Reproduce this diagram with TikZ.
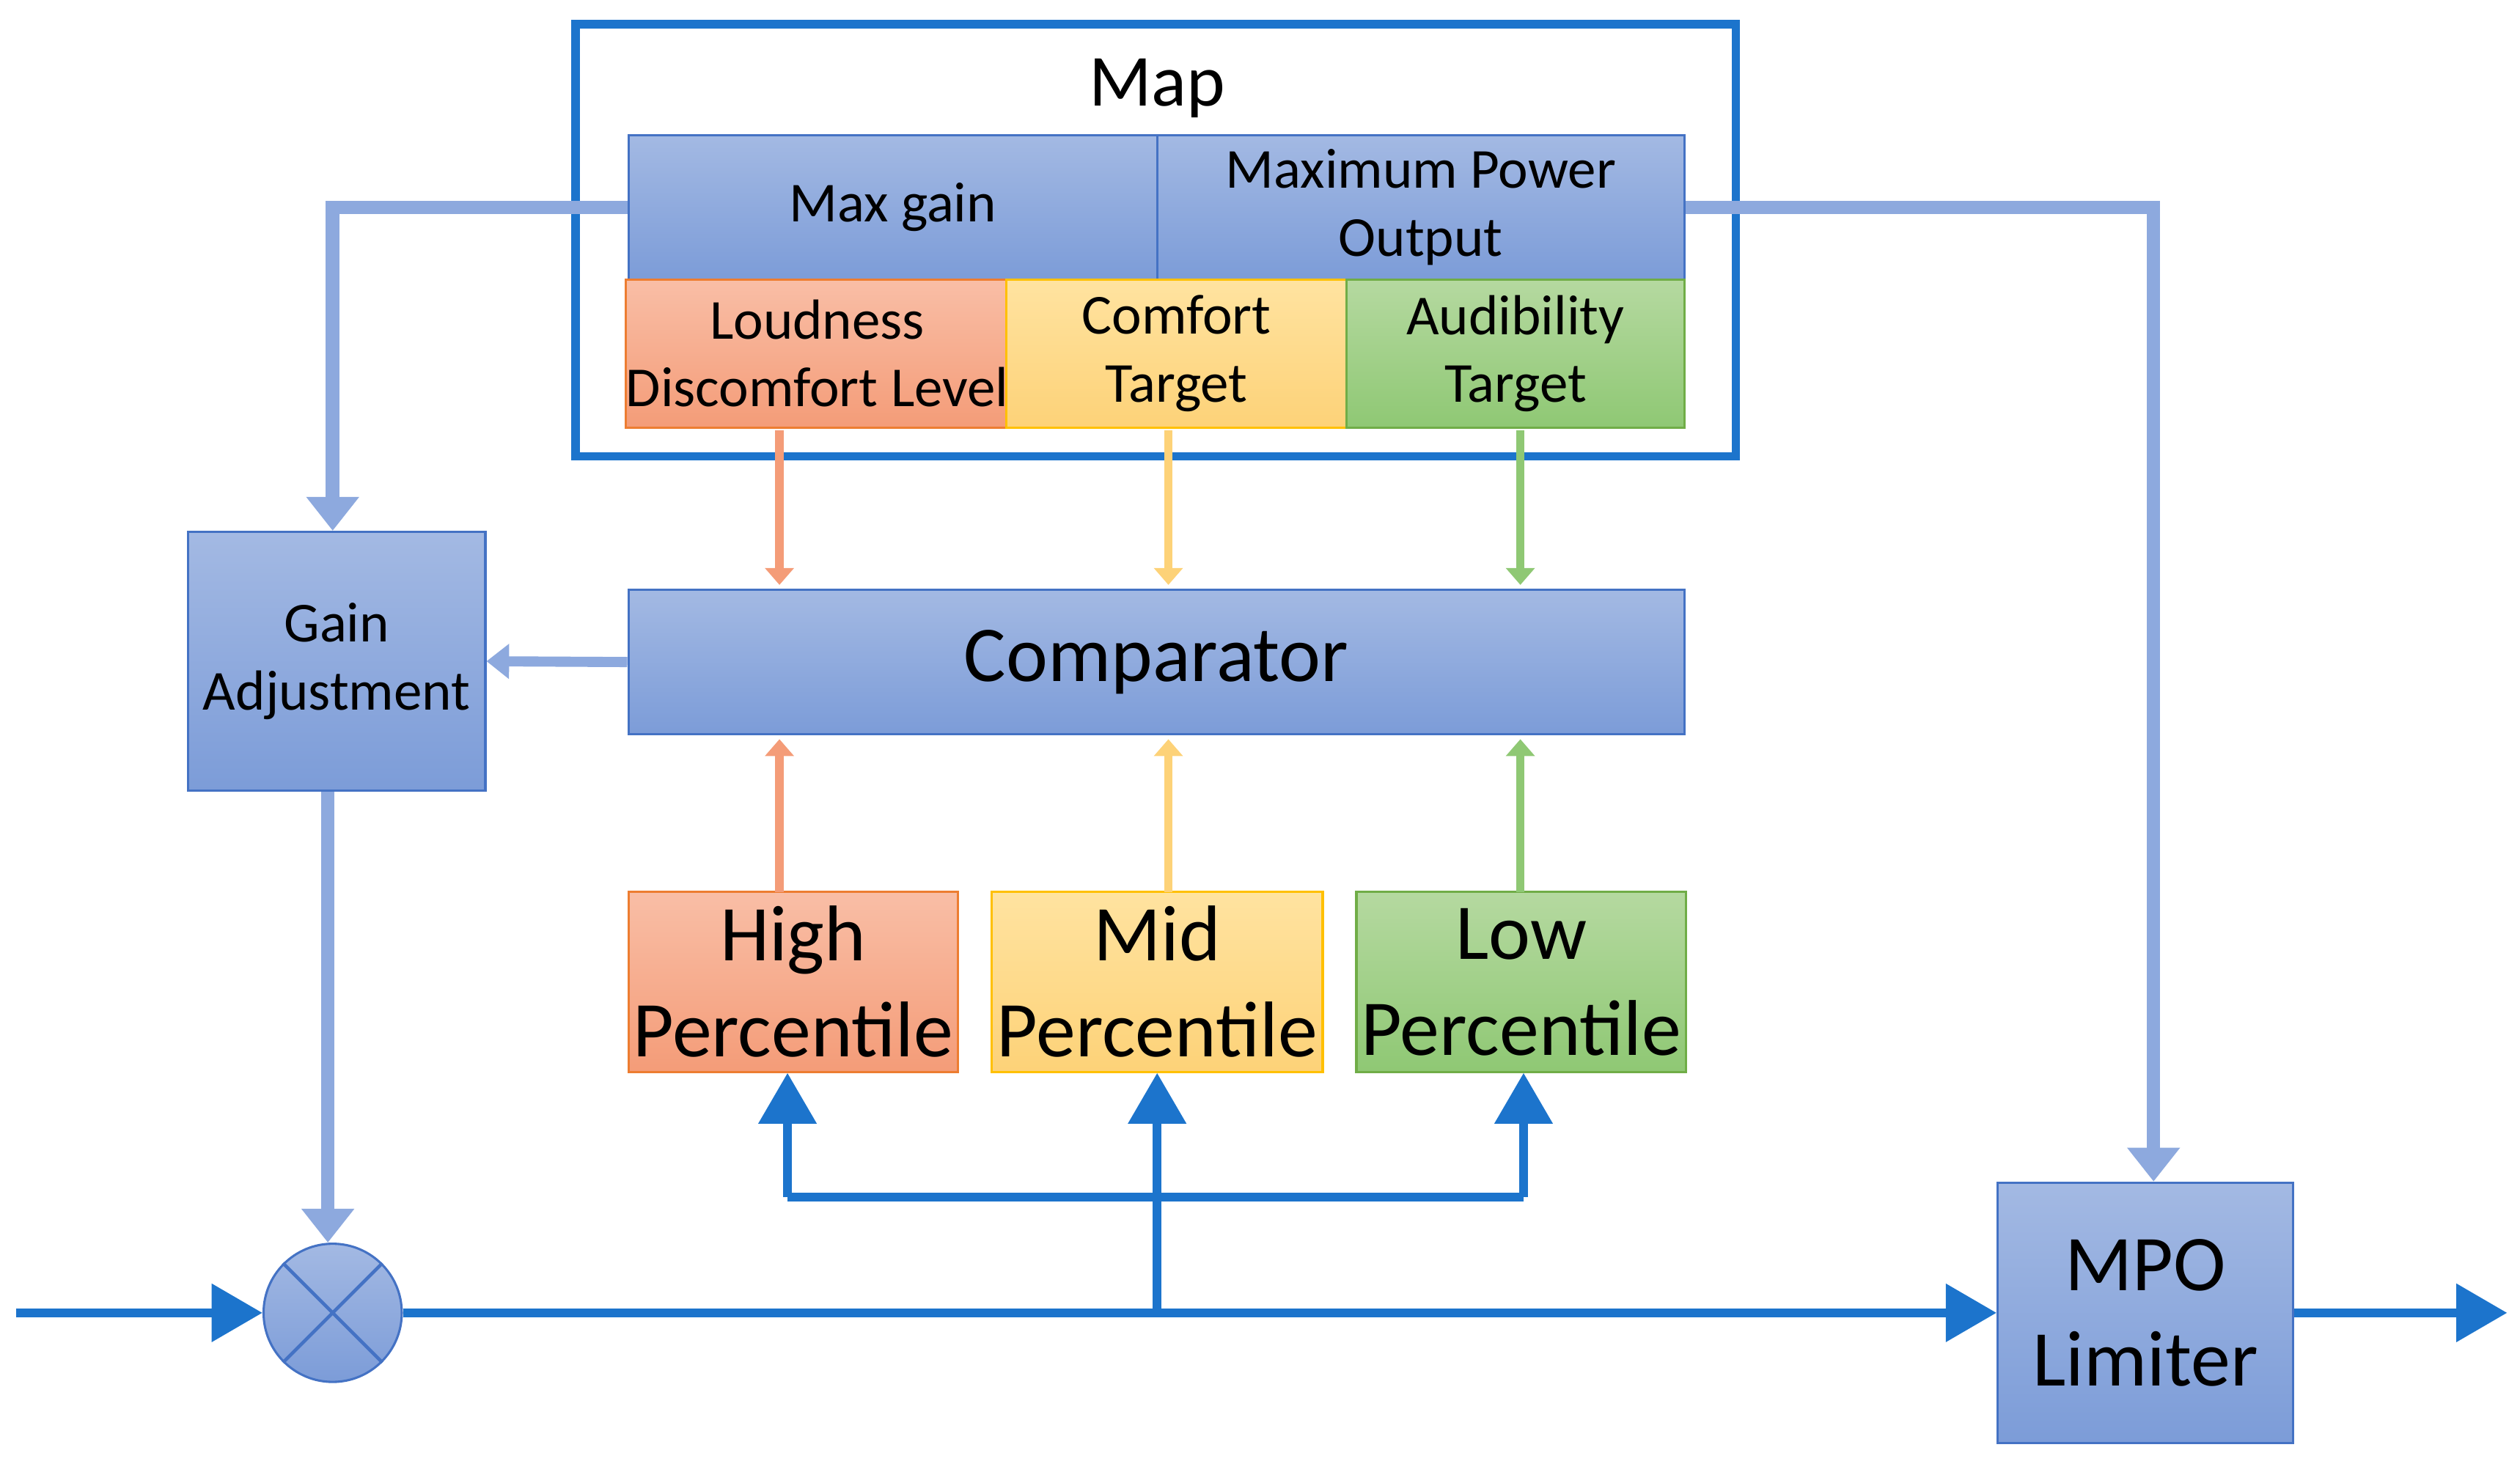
\documentclass[tikz,border=0pt]{standalone}
\usepackage{fontspec}
\setmainfont{Carlito}
\usetikzlibrary{arrows.meta}
\definecolor{bT}{HTML}{A3B9E3}\definecolor{bB}{HTML}{7C9CD8}\definecolor{bD}{HTML}{4472C4}
\definecolor{oT}{HTML}{F9BEA6}\definecolor{oB}{HTML}{F49C78}\definecolor{oD}{HTML}{ED7D31}
\definecolor{yT}{HTML}{FFE3A0}\definecolor{yB}{HTML}{FDD278}\definecolor{yD}{HTML}{FFC000}
\definecolor{gT}{HTML}{B5D9A0}\definecolor{gB}{HTML}{8FC874}\definecolor{gD}{HTML}{70AD47}
\definecolor{main}{HTML}{1C74CC}\definecolor{lb}{HTML}{8DA9DE}
\tikzset{
 box/.style={draw=#1D,top color=#1T,bottom color=#1B,line width=0.4pt,align=center,inner sep=0pt},
 blu/.style={box=b},
 sz/.style 2 args={minimum width=#1*0.1mm,minimum height=#2*0.1mm},
 fat/.style={draw=main,line width=1.5pt},
 fatarr/.style={fat,-{Triangle[length=9pt,width=10pt]}},
 soft/.style={draw=lb,line width=2.4pt,-{Triangle[length=6pt,width=9pt,fill=lb]}},
 col/.style={draw=#1,line width=1.5pt,-{Triangle[length=3pt,width=5pt]}},
 sm/.style={font=\fontsize{10}{12}\selectfont},
 bg/.style={font=\fontsize{14}{17}\selectfont},
}
\begin{document}
\begin{tikzpicture}[x=0.1mm,y=-0.1mm]
\useasboundingbox (0,0) rectangle (1568,916);
\node[blu,sz={329}{90},sm] (maxg) at (555.5,129) {Max gain};
\node[blu,sz={328}{90},sm] (mpo) at (884,129) {Maximum Power\\Output};
\node[box=o,sz={235}{92},sm] (ldl) at (508.5,220) {Loudness\\Discomfort Level};
\node[box=y,sz={212}{92},sm] (ct) at (732,220) {Comfort\\Target};
\node[box=g,sz={210}{92},sm] (at) at (943,220) {Audibility\\Target};
\node[draw=main,line width=1.5pt,sz={722}{269},inner sep=0pt] (map) at (719,149.5) {};
\node[font=\fontsize{13}{15}\selectfont] (maplbl) at (720,55) {Map};
\node[blu,sz={657}{90},bg] (cmp) at (719.5,412) {Comparator};
\node[blu,sz={185}{161},sm] (ga) at (209.5,411.5) {Gain\\Adjustment};
\node[box=o,sz={205}{112},bg] (hp) at (493.5,611) {High\\Percentile};
\node[box=y,sz={206}{112},bg] (mp) at (720,611) {Mid\\Percentile};
\node[box=g,sz={205}{112},bg] (lp) at (946.5,611) {Low\\Percentile};
\node[blu,sz={184}{162},bg] (lim) at (1335,817) {MPO\\Limiter};
\node[circle,draw=bD,top color=bT,bottom color=bB,minimum size=86*0.1mm,inner sep=0pt] (mul) at (207,817) {};
\draw[bD,line width=0.6pt] (mul.45)--(mul.225) (mul.135)--(mul.315);
\coordinate (in) at (10,817);
\coordinate (out) at (1560,817);
\coordinate (br) at (720,817);
\draw[fatarr] (in) -- (mul.west);
\draw[fatarr] (mul.east) -- (lim.west);
\draw[fatarr] (lim.east) -- (out);
\draw[fat] (br) -- (720,745);
\draw[fat] (490,745) -- (948,745);
\draw[fatarr] (490,745) -- (hp.south-|490,0);
\draw[fatarr] (720,745) -- (mp.south);
\draw[fatarr] (948,745) -- (lp.south-|948,0);
\draw[soft] (maxg.west) -- (207,129) -- (ga.north-|207,0);
\draw[soft] (mpo.east) -- (1340,129) -- (lim.north-|1340,0);
\draw[soft] (ga.south-|204,0) -- (mul.north-|204,0);
\draw[soft,line width=1.8pt,-{Triangle[length=4pt,width=6pt,fill=lb]}] (cmp.west) -- (ga.east);
\draw[col=oB] (485,268) -- (485,364);
\draw[col=yB] (727,268) -- (727,364);
\draw[col=gB] (946,268) -- (946,364);
\draw[col=oB] (485,555) -- (485,460);
\draw[col=yB] (727,555) -- (727,460);
\draw[col=gB] (946,555) -- (946,460);
\end{tikzpicture}
\end{document}
